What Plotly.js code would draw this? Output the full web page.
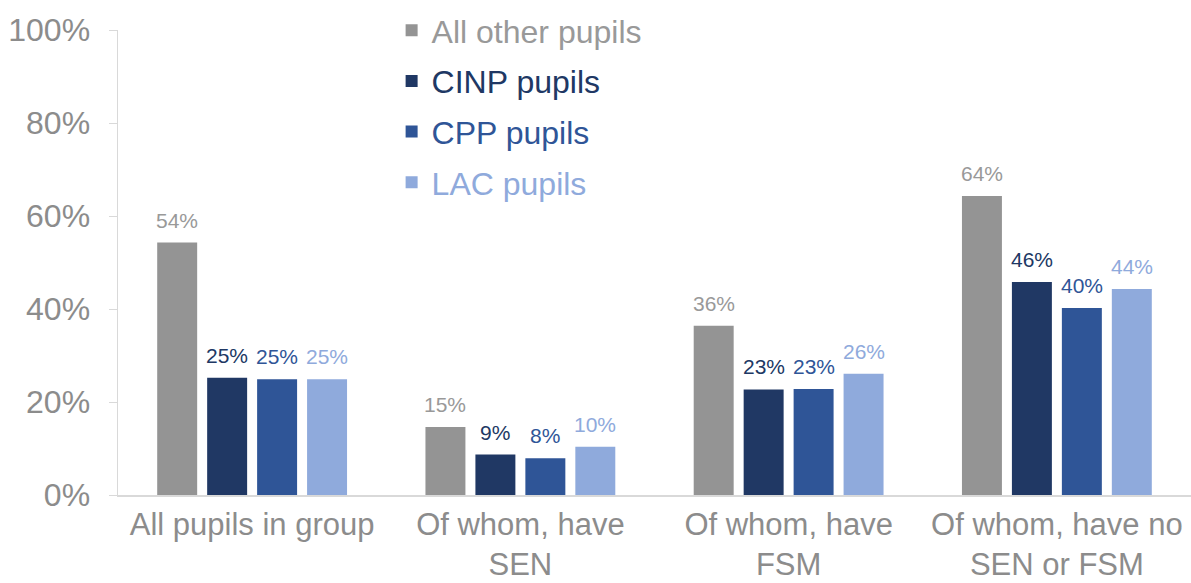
<!DOCTYPE html>
<html><head><meta charset="utf-8">
<script src="https://cdn.plot.ly/plotly-3.0.1.min.js"></script>
<style>html,body{margin:0;padding:0;background:#fff}#chart{width:1191px;height:583px}</style>
</head><body><div id="chart"></div>
<script>
const categories = ["All pupils in group", "Of whom, have<br>SEN", "Of whom, have<br>FSM", "Of whom, have no<br>SEN or FSM"];
const seriesNames = ["All other pupils", "CINP pupils", "CPP pupils", "LAC pupils"];
const allOther = [0.543, 0.146, 0.364, 0.643];
const cinp = [0.252, 0.087, 0.227, 0.458];
const cpp = [0.249, 0.079, 0.228, 0.402];
const lac = [0.249, 0.104, 0.261, 0.443];
const seriesValues = [allOther, cinp, cpp, lac];
const colors = ["#949494", "#203864", "#2F5597", "#8FAADC"];
const labelColors = ["#999999", "#203864", "#2F5597", "#8FAADC"];

const font = "Liberation Sans, Arial, sans-serif";
const traces = seriesValues.map((vals, i) => ({
  type: "bar",
  x: categories,
  y: vals,
  name: '<span style="color:' + labelColors[i] + '">' + seriesNames[i] + '</span>',
  legendgroup: "g" + i,
  marker: {color: colors[i]},
  hoverinfo: "none"
}));

// data labels placed above each bar (offset by the bar's slot within its group)
const plotW = 1191 - 118;
const bargap = 0.255, bargroupgap = 0.2;
const slot = plotW / categories.length * (1 - bargap) / seriesValues.length;
const annotations = [];
seriesValues.forEach((vals, i) => {
  vals.forEach((v, j) => {
    annotations.push({
      xref: "x", yref: "y", x: categories[j], y: v,
      xshift: (i - (seriesValues.length - 1) / 2) * slot,
      yshift: 9, yanchor: "bottom", xanchor: "center",
      showarrow: false,
      text: Math.round(v * 100) + "%",
      font: {family: font, size: 21, color: labelColors[i]}
    });
  });
});

const layout = {
  width: 1191, height: 583,
  margin: {l: 118, r: 0, t: 30, b: 88},
  paper_bgcolor: "#fff", plot_bgcolor: "#fff",
  barmode: "group",
  bargap: bargap,
  bargroupgap: bargroupgap,
  font: {family: font, color: "#8c8c8c"},
  showlegend: true,
  legend: {
    x: 0.255, y: 1.058, xanchor: "left", yanchor: "top",
    bgcolor: "rgba(0,0,0,0)",
    font: {family: font, size: 32},
    traceorder: "grouped",
    tracegroupgap: 6
  },
  annotations: annotations,
  xaxis: {
    showline: true, linecolor: "#d9d9d9", linewidth: 1.5,
    ticks: "", tickfont: {family: font, size: 31, color: "#8c8c8c"},
    ticklabelstandoff: 1,
    fixedrange: true
  },
  yaxis: {
    range: [0, 1], dtick: 0.2, tickformat: ".0%",
    showgrid: false, zeroline: false,
    showline: true, linecolor: "#d9d9d9", linewidth: 1.5,
    ticks: "outside", ticklen: 8, tickcolor: "#d9d9d9",
    tickfont: {family: font, size: 32, color: "#8c8c8c"},
    ticklabelstandoff: 12,
    fixedrange: true
  }
};
Plotly.newPlot("chart", traces, layout, {displayModeBar: false, staticPlot: true});
</script></body></html>
